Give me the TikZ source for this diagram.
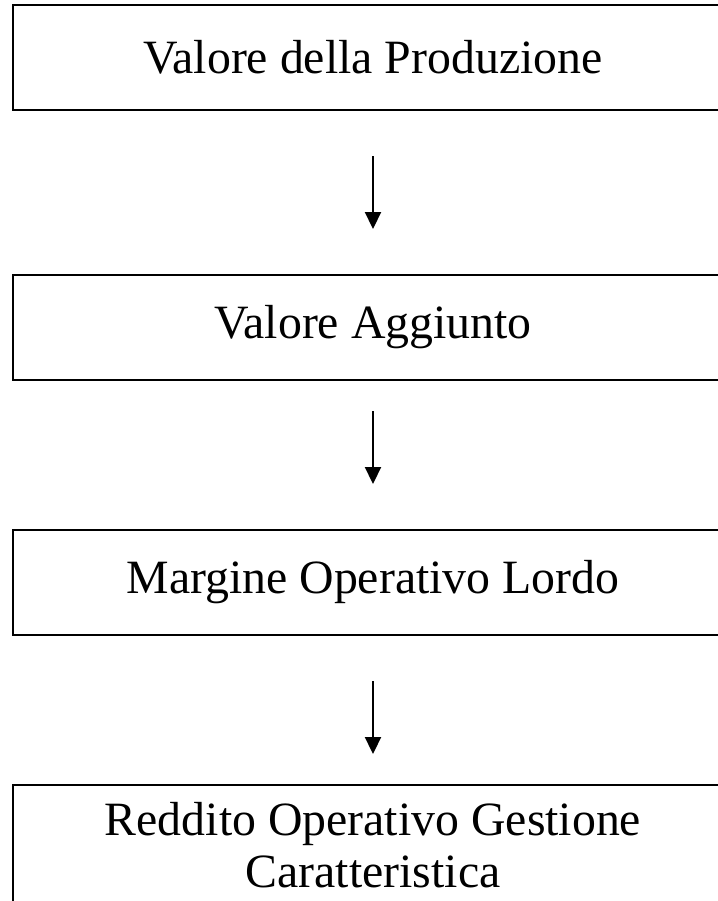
\documentclass[tikz,border=0pt]{standalone}
\usepackage{fontspec}
\setmainfont{Liberation Serif}
\usetikzlibrary{arrows.meta}
\begin{document}
\begin{tikzpicture}[x=0.5pt,y=-0.5pt,
  boks/.style={draw,line width=1pt,minimum width=360pt,minimum height=52.5pt,inner sep=0pt,align=center,font=\fontsize{23.9}{26}\selectfont},
  pil/.style={-{Triangle[width=8pt,length=8.5pt]},line width=1.1pt}]
  %ramme, boksene er skaaret af til hoejre og forneden
	\clip (0,0) rectangle (718,901);

  %boksene
	\node[boks] (vp) at (373,57.5) {Valore della Produzione};
	\node[boks] (va) at (373,327.5) {Valore Aggiunto};
	\node[boks] (mol) at (373,582.5) {Margine Operativo Lordo};
	\node[boks,minimum height=60pt] (rogc) at (373,845) {Reddito Operativo Gestione\\Caratteristica};

  %pile
	\draw[pil,shorten <=22.5pt,shorten >=22.5pt] (vp) -- (va);
	\draw[pil,shorten <=15pt,shorten >=22.5pt] (va) -- (mol);
	\draw[pil,shorten <=22.5pt,shorten >=15pt] (mol) -- (rogc);
\end{tikzpicture}
\end{document}
